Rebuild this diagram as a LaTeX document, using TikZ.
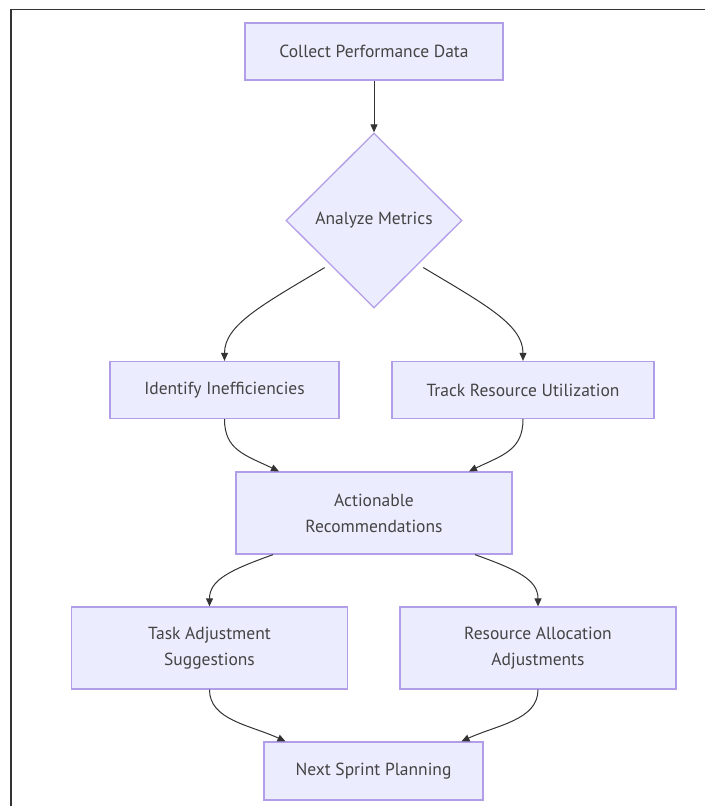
\documentclass[tikz,border=0pt]{standalone}
\usepackage{fontspec}
\setmainfont{PT Sans}
\usetikzlibrary{shapes.geometric,arrows.meta}
\definecolor{nodefill}{HTML}{ECECFF}
\definecolor{nodeline}{HTML}{B29DE8}
\definecolor{ink}{HTML}{333333}
\definecolor{txt}{HTML}{444444}
\tikzset{
  box/.style={draw=nodeline, fill=nodefill, line width=1.3pt, text=txt, align=center,
    font=\fontsize{17.5}{26}\selectfont, inner sep=0pt},
  dia/.style={draw=nodeline, fill=nodefill, line width=1.3pt, text=txt, diamond, aspect=1,
    font=\fontsize{17.5}{26}\selectfont, inner sep=0pt, minimum width=176pt, minimum height=175pt},
  arr/.style={draw=ink, line width=1pt, -{Triangle[length=8pt,width=7pt]}},
  frameline/.style={draw=black!80, line width=1.5pt}
}
\begin{document}
\begin{tikzpicture}[x=1pt,y=-1pt]
\useasboundingbox (0,0) rectangle (705,806);
\coordinate (fa) at (11,806);
\coordinate (fb) at (11,9.5);
\coordinate (fc) at (705,9.5);
\draw[frameline] (fa) -- (fb) -- (fc);

\node[box, minimum width=258pt, minimum height=57pt] (cp) at (374,51.5) {Collect Performance Data};
\node[dia] (am) at (374,220.5) {Analyze Metrics};
\node[box, minimum width=229pt, minimum height=57pt] (ii) at (224.5,390) {Identify Inefficiencies};
\node[box, minimum width=262pt, minimum height=57pt] (tr) at (523,390) {Track Resource Utilization};
\node[box, minimum width=276pt, minimum height=82pt] (ar) at (374,513) {Actionable\\Recommendations};
\node[box, minimum width=276pt, minimum height=82pt] (ta) at (209.5,648) {Task Adjustment\\Suggestions};
\node[box, minimum width=276pt, minimum height=82pt] (ra) at (538,648) {Resource Allocation\\Adjustments};
\node[box, minimum width=219pt, minimum height=58pt] (ns) at (373.5,771) {Next Sprint Planning};

\draw[arr] (cp.south) -- (am.north);
\draw[arr] ([xshift=-5pt,yshift=-3pt]am.south west) .. controls (262,305) and (224.5,325) .. (ii.north);
\draw[arr] ([xshift=5pt,yshift=-3pt]am.south east) .. controls (486,305) and (523,325) .. (tr.north);
\draw[arr] (ii.south) .. controls (224.5,450) and (245,455) .. ([xshift=-95pt]ar.north);
\draw[arr] (tr.south) .. controls (523,450) and (503,455) .. ([xshift=95pt]ar.north);
\draw[arr] ([xshift=-101pt]ar.south) .. controls (230,570) and (209.5,580) .. (ta.north);
\draw[arr] ([xshift=101pt]ar.south) .. controls (518,570) and (538,580) .. (ra.north);
\draw[arr] (ta.south) .. controls (209.5,720) and (250,725) .. ([xshift=-88pt]ns.north);
\draw[arr] (ra.south) .. controls (538,720) and (497,725) .. ([xshift=88pt]ns.north);
\end{tikzpicture}
\end{document}
